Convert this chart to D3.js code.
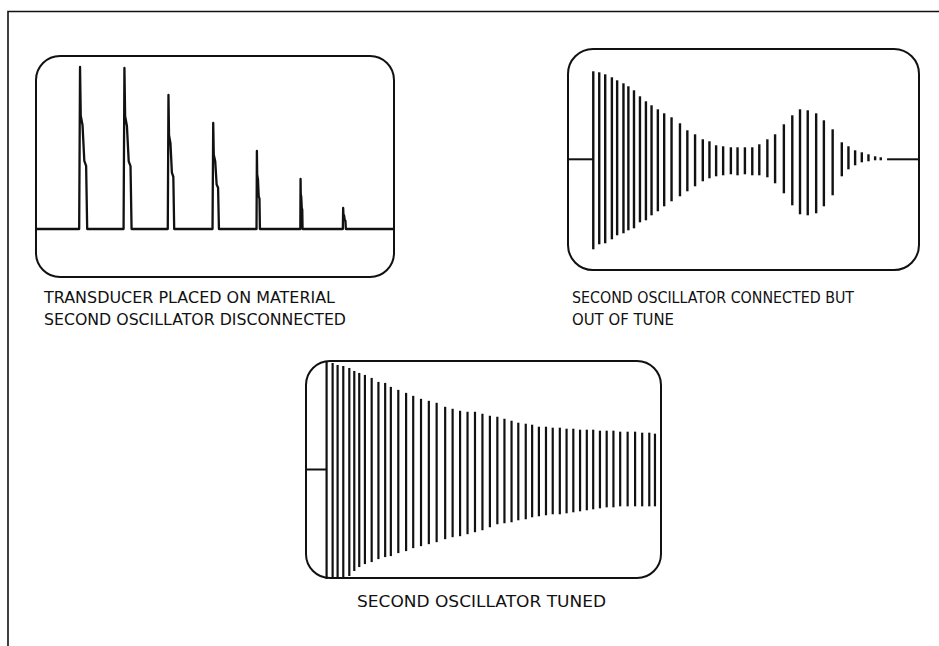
<!DOCTYPE html>
<html>
<head>
<meta charset="utf-8">
<script src="https://cdn.jsdelivr.net/npm/d3@7"></script>
<style>
  html, body { margin: 0; padding: 0; background: #fff; }
  svg { display: block; }
  text { font-family: "DejaVu Sans", sans-serif; fill: #111; }
</style>
</head>
<body>
<svg id="chart" width="939" height="646"></svg>
<script>
// ---------------- DATA ----------------
// Panel 1: transducer on material, second oscillator disconnected (echo pulses)
const pulseTimes      = [1.23, 2.47, 3.70, 4.95, 6.17, 7.39, 8.58];
const pulseAmplitudes = [8.1, 8.05, 6.7, 5.3, 3.9, 2.5, 1.05];
const pulseWidths     = [0.20, 0.20, 0.16, 0.16, 0.085, 0.056, 0.075];
// shape of one echo: [offset as fraction of width, fraction of amplitude]
const pulseShapeOffsets   = [-0.12, 0, 0.1, 0.35, 0.6, 0.85, 1];
const pulseShapeFractions = [0, 1, 0.7, 0.64, 0.42, 0.39, 0];

// Panel 2: second oscillator connected but out of tune (beats)
const beatTimes = [0.72, 0.89, 1.06, 1.25, 1.40, 1.58, 1.72, 1.88, 2.05, 2.22, 2.38, 2.56, 2.74, 2.95,
  3.19, 3.40, 3.62, 3.84, 4.03, 4.22, 4.42, 4.64, 4.83, 5.04, 5.25, 5.45, 5.68, 5.90, 6.15, 6.39,
  6.61, 6.83, 7.07, 7.29, 7.54, 7.80, 7.99, 8.18, 8.37, 8.56, 8.75, 8.91];
const beatUpper = [8.8, 8.7, 8.5, 8.2, 7.9, 7.6, 7.3, 6.9, 6.3, 5.8, 5.4, 5.0, 4.6, 4.2, 3.6, 2.9,
  2.5, 2.0, 1.8, 1.4, 1.3, 1.2, 1.2, 1.2, 1.2, 1.5, 2.0, 2.5, 3.5, 4.4, 5.0, 4.9, 4.6, 3.9, 3.0,
  1.7, 1.3, 0.9, 0.7, 0.5, 0.3, 0.2];
const beatLower = [9.0, 8.5, 8.4, 8.0, 7.6, 7.4, 7.1, 6.9, 6.3, 6.1, 5.6, 5.2, 4.7, 4.2, 3.7, 3.2,
  2.7, 2.2, 1.9, 1.7, 1.6, 1.5, 1.6, 1.5, 1.6, 1.6, 1.8, 2.4, 3.4, 4.6, 5.5, 5.6, 5.4, 4.7, 3.6,
  1.7, 1.0, 0.6, 0.3, 0.2, 0.1, 0.1];
const beatTraceEnd = 9.09;

// Panel 3: second oscillator tuned (slow decay)
const tunedTimes = [0.58, 0.75, 0.89, 1.05, 1.22, 1.36, 1.50, 1.66, 1.85, 2.04, 2.23, 2.39, 2.60,
  2.82, 3.02, 3.24, 3.46, 3.68, 3.92, 4.13, 4.34, 4.55, 4.76, 4.97, 5.18, 5.39, 5.59, 5.79, 5.98,
  6.19, 6.37, 6.56, 6.76, 6.95, 7.15, 7.34, 7.53, 7.72, 7.91, 8.09, 8.28, 8.47, 8.66, 8.85, 9.06,
  9.27, 9.47, 9.67, 9.83];
const tunedUpper = [10.8, 10.7, 10.5, 10.4, 10.2, 9.9, 9.7, 9.5, 9.2, 8.8, 8.7, 8.3, 8.0, 7.7, 7.4,
  7.1, 6.9, 6.7, 6.3, 6.1, 5.9, 5.8, 5.8, 5.6, 5.4, 5.3, 5.1, 4.9, 4.7, 4.6, 4.5, 4.3, 4.3, 4.2,
  4.2, 4.1, 4.1, 4.0, 4.0, 4.0, 3.9, 3.9, 3.9, 3.8, 3.8, 3.8, 3.7, 3.7, 3.6];
const tunedLower = [11.0, 11.0, 11.0, 10.9, 10.7, 10.2, 9.8, 9.5, 9.3, 9.0, 8.8, 8.7, 8.4, 8.2, 7.9,
  7.7, 7.5, 7.3, 7.0, 6.8, 6.7, 6.5, 6.3, 6.1, 5.8, 5.5, 5.4, 5.3, 5.1, 5.0, 4.8, 4.7, 4.6, 4.5,
  4.5, 4.4, 4.3, 4.2, 4.1, 4.0, 3.9, 3.8, 3.8, 3.7, 3.7, 3.7, 3.7, 3.7, 3.7];

const captions1 = ["TRANSDUCER PLACED ON MATERIAL", "SECOND OSCILLATOR DISCONNECTED"];
const captions2 = ["SECOND OSCILLATOR CONNECTED BUT", "OUT OF TUNE"];
const captions3 = ["SECOND OSCILLATOR TUNED"];

// ---------------- DRAW ----------------
const svg = d3.select("#chart");
const ink = "#111";

// outer frame (top and left rules)
svg.append("path")
  .attr("d", d3.line()([[8, 646], [8, 11.5], [939, 11.5]]))
  .attr("fill", "none").attr("stroke", ink).attr("stroke-width", 1.6);

function screen(box) {
  svg.append("rect")
    .attr("x", box.x0).attr("y", box.y0)
    .attr("width", box.x1 - box.x0).attr("height", box.y1 - box.y0)
    .attr("rx", box.r).attr("ry", box.r)
    .attr("fill", "none").attr("stroke", ink).attr("stroke-width", 2);
}

// ---- Panel 1 ----
const p1 = {x0: 36, x1: 394, y0: 56, y1: 277, r: 24};
const x1s = d3.scaleLinear().domain([0, 10]).range([p1.x0, p1.x1]);
const y1s = d3.scaleLinear().domain([-2.4, 8.65]).range([p1.y1, p1.y0]);
const tracePts = [[0, 0]];
pulseTimes.forEach((t, i) => {
  pulseShapeOffsets.forEach((o, k) => {
    tracePts.push([t + o * pulseWidths[i], pulseShapeFractions[k] * pulseAmplitudes[i]]);
  });
});
tracePts.push([10, 0]);
screen(p1);
svg.append("path")
  .datum(tracePts)
  .attr("d", d3.line().x(d => x1s(d[0])).y(d => y1s(d[1])))
  .attr("fill", "none").attr("stroke", ink).attr("stroke-width", 2.3)
  .attr("stroke-linejoin", "round");

// ---- Panel 2 ----
const p2 = {x0: 568, x1: 919, y0: 49, y1: 270, r: 25};
const x2s = d3.scaleLinear().domain([0, 10]).range([p2.x0, p2.x1]);
const y2s = d3.scaleLinear().domain([-11.07, 11.03]).range([p2.y1, p2.y0]);
screen(p2);
svg.append("path")
  .attr("d", d3.line().x(d => x2s(d[0])).y(d => y2s(d[1]))([[0, 0], [beatTimes[0], 0]]))
  .attr("stroke", ink).attr("stroke-width", 2);
svg.append("path")
  .attr("d", d3.line().x(d => x2s(d[0])).y(d => y2s(d[1]))([[beatTraceEnd, 0], [10, 0]]))
  .attr("stroke", ink).attr("stroke-width", 2);
svg.append("g").selectAll("line")
  .data(beatTimes.map((t, i) => ({t, u: beatUpper[i], l: beatLower[i]})))
  .join("line")
  .attr("x1", d => x2s(d.t)).attr("x2", d => x2s(d.t))
  .attr("y1", d => y2s(d.u)).attr("y2", d => y2s(-d.l))
  .attr("stroke", ink).attr("stroke-width", 2.4);

// ---- Panel 3 ----
const p3 = {x0: 306, x1: 661, y0: 361, y1: 578, r: 24};
const x3s = d3.scaleLinear().domain([0, 10]).range([p3.x0, p3.x1]);
const y3s = d3.scaleLinear().domain([-10.9, 10.9]).range([p3.y1, p3.y0]);
screen(p3);
svg.append("path")
  .attr("d", d3.line().x(d => x3s(d[0])).y(d => y3s(d[1]))([[0, 0], [tunedTimes[0], 0]]))
  .attr("stroke", ink).attr("stroke-width", 2);
svg.append("g").selectAll("line")
  .data(tunedTimes.map((t, i) => ({t, u: tunedUpper[i], l: tunedLower[i]})))
  .join("line")
  .attr("x1", d => x3s(d.t)).attr("x2", d => x3s(d.t))
  .attr("y1", d => y3s(d.u)).attr("y2", d => y3s(-d.l))
  .attr("stroke", ink).attr("stroke-width", 2.2);

// ---- Captions ----
function caption(lines, widths, x, y, size, anchor) {
  svg.append("g").selectAll("text")
    .data(lines)
    .join("text")
    .attr("x", x)
    .attr("y", (d, i) => y + i * 22)
    .attr("text-anchor", anchor)
    .attr("font-size", size)
    .attr("textLength", (d, i) => widths[i])
    .attr("lengthAdjust", "spacingAndGlyphs")
    .text(d => d);
}
caption(captions1, [291, 302], 44, 303, 15, "start");
caption(captions2, [282, 102], 572, 303, 15, "start");
caption(captions3, [249], 481.5, 606.5, 15.5, "middle");
</script>
</body>
</html>
